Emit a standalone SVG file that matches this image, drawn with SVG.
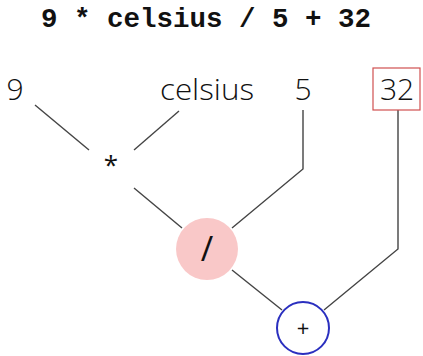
<svg xmlns="http://www.w3.org/2000/svg" width="423" height="356" viewBox="0 0 423 356">
<style>
.title{font-family:"Liberation Mono",monospace;font-weight:bold;font-size:27.5px;fill:#111}
.leaf{font-family:"Open Sans","Liberation Sans",sans-serif;font-weight:300;font-size:30px;fill:#111}
.op{font-family:"Open Sans","Liberation Sans",sans-serif;font-weight:400;fill:#111}
.edge{fill:none;stroke:#444;stroke-width:1.4}
</style>
<rect width="423" height="356" fill="#fff"/>
<text class="title" x="206" y="27" text-anchor="middle">9 * celsius / 5 + 32</text>
<g id="connectors">
<path class="edge" d="M35,105 L89,150"/>
<path class="edge" d="M179,111 L134,150"/>
<path class="edge" d="M134,188 L182,228"/>
<path class="edge" d="M303,110 L303,169 L232,228"/>
<path class="edge" d="M232,270 L282,310"/>
<path class="edge" d="M398,110 L398,249 L324,310"/>
</g>
<g id="n9"><text class="leaf" x="15" y="100" text-anchor="middle">9</text></g>
<g id="ncelsius"><text class="leaf" x="160" y="100" textLength="94" lengthAdjust="spacingAndGlyphs">celsius</text></g>
<g id="n5"><text class="leaf" x="303" y="100" text-anchor="middle">5</text></g>
<g id="n32"><rect x="373" y="68" width="47" height="42" fill="#fff" stroke="#d05050" stroke-width="1.2"/><text class="leaf" x="397" y="100" text-anchor="middle">32</text></g>
<g id="nmul"><text class="op" x="111" y="174" font-size="26" text-anchor="middle">*</text></g>
<g id="ndiv"><circle cx="207" cy="249" r="31" fill="#f9c8c8"/><text class="op" x="207" y="261" font-size="34" text-anchor="middle">/</text></g>
<g id="nadd"><circle cx="303" cy="328" r="26" fill="#fff" stroke="#2a2fbf" stroke-width="2"/><text class="op" x="303" y="336" font-size="22" text-anchor="middle">+</text></g>
</svg>
